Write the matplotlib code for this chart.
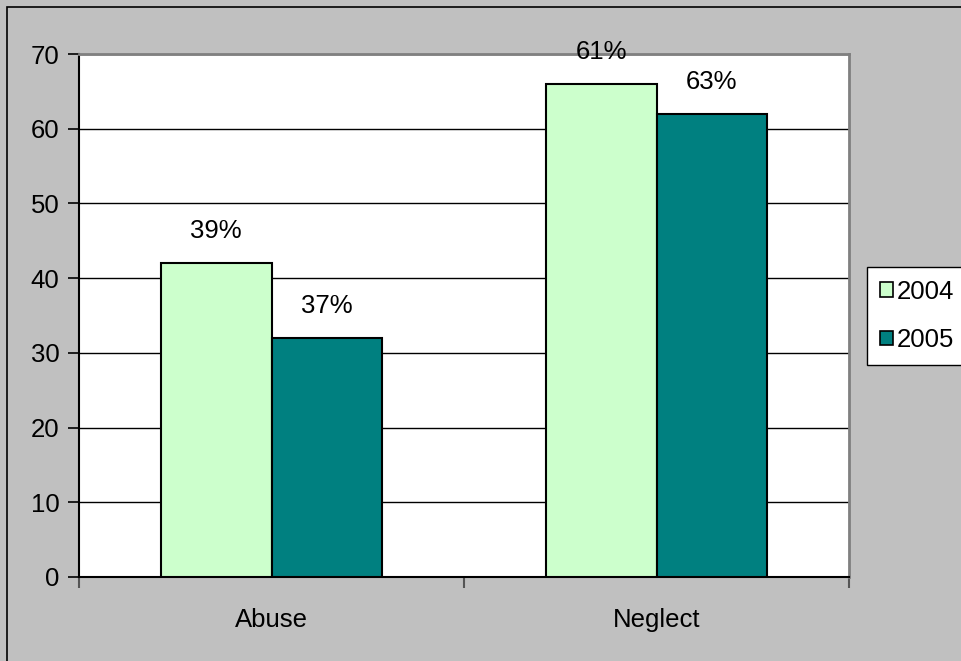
import matplotlib
matplotlib.use("Agg")
import matplotlib.pyplot as plt
import numpy as np
from matplotlib.patches import Rectangle

categories = ["Abuse", "Neglect"]
series_names = ["2004", "2005"]
values_2004 = [42, 66]
values_2005 = [32, 62]
labels_2004 = ["39%", "61%"]
labels_2005 = ["37%", "63%"]
y_ticks = [0, 10, 20, 30, 40, 50, 60, 70]

plt.rcParams['font.family'] = ['Liberation Sans', 'DejaVu Sans']
FS = 18.5

W, H = 961, 661
fig = plt.figure(figsize=(W / 100, H / 100), dpi=100)
fig.patch.set_facecolor('#C0C0C0')

# outer border (left/top visible)
fig.patches.append(Rectangle((7 / W, -0.1), 1.2, 1 - 7 / H + 0.1, transform=fig.transFigure,
                             fill=False, edgecolor='black', linewidth=1.2, zorder=0))

ax = fig.add_axes([79 / W, 1 - 577 / H, (849 - 79) / W, (577 - 54) / H])
ax.set_facecolor('white')

x = np.arange(len(categories))
bw = 0.288
b1 = ax.bar(x - bw / 2, values_2004, bw, color='#CCFFCC', edgecolor='black', linewidth=1.5,
            label=series_names[0], zorder=3)
b2 = ax.bar(x + bw / 2, values_2005, bw, color='#008080', edgecolor='black', linewidth=1.5,
            label=series_names[1], zorder=3)

for bars, labs in ((b1, labels_2004), (b2, labels_2005)):
    for rect, lab in zip(bars, labs):
        ax.annotate(lab, (rect.get_x() + rect.get_width() / 2, rect.get_height()),
                    xytext=(0, 23), textcoords='offset points', ha='center', va='center',
                    fontsize=FS)

ax.set_xlim(-0.5, 1.5)
ax.set_ylim(0, 70)
ax.set_yticks(y_ticks)
ax.set_yticklabels([str(t) for t in y_ticks], fontsize=FS)
ax.yaxis.grid(True, color='black', linewidth=1, zorder=0)
ax.set_axisbelow(True)

ax.set_xticks([-0.5, 0.5, 1.5])
ax.set_xticklabels([])
ax.set_xticks(x, minor=True)
ax.set_xticklabels(categories, minor=True, fontsize=FS)
ax.tick_params(axis='x', which='minor', length=0, pad=22)
ax.tick_params(axis='x', which='major', length=8, width=1.5, color='#555555', direction='out')
ax.tick_params(axis='y', length=8, width=1.2, direction='out', pad=6)

for s in ['left', 'bottom']:
    ax.spines[s].set_color('black')
    ax.spines[s].set_linewidth(1.5)
for s in ['top', 'right']:
    ax.spines[s].set_color('#808080')
    ax.spines[s].set_linewidth(2)

leg = fig.legend(handles=[b1, b2], labels=series_names, loc='upper left',
                 bbox_to_anchor=(867 / W, 1 - 267 / H), bbox_transform=fig.transFigure,
                 fontsize=FS, frameon=True, fancybox=False, borderaxespad=0, framealpha=1,
                 handlelength=0.5, handleheight=0.5, handletextpad=0.15,
                 labelspacing=0.95, borderpad=0.5)
leg.get_frame().set_edgecolor('black')
leg.get_frame().set_facecolor('white')
leg.get_frame().set_linewidth(1)
for p in leg.get_patches():
    p.set_linewidth(1.2)

fig.savefig('out.png', dpi=100, facecolor=fig.get_facecolor())
